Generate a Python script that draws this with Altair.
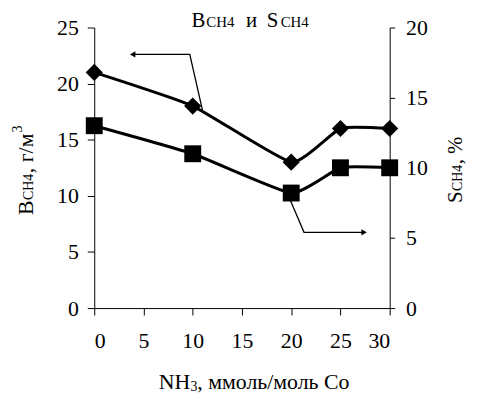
import altair as alt
import pandas as pd

# ---- data ----
nh3 = [0, 10, 20, 25, 30]                 # NH3, mmol/mol Co
b_ch4 = [21, 18, 13, 16, 16]              # B_CH4, g/m3 (left axis, diamonds)
s_ch4 = [13, 11, 8.2, 10, 10]             # S_CH4, %   (right axis, squares)

x_ticks = [0, 5, 10, 15, 20, 25, 30]
left_ticks = [0, 5, 10, 15, 20, 25]
right_ticks = [0, 5, 10, 15, 20]

# pointer arrows (data units: left scale for B, right scale for S)
arrow_b_x = [11.0, 9.7, 3.9]
arrow_b_y = [17.6, 22.6, 22.6]
arrow_s_x = [19.9, 21.3, 27.4]
arrow_s_y = [7.7, 5.4, 5.4]

title_parts = ["B", "CH4", "и", "S", "CH4"]
x_title_parts = ["NH", "3", ", ммоль/моль Co"]
left_title_parts = ["B", "CH4", ", г/м", "3"]
right_title_parts = ["S", "CH4", ", %"]

FONT = "Liberation Serif"

df = pd.DataFrame({"x": nh3, "b": b_ch4, "s": s_ch4})
arr_b = pd.DataFrame({"x": arrow_b_x, "y": arrow_b_y, "o": list(range(len(arrow_b_x)))})
arr_s = pd.DataFrame({"x": arrow_s_x, "y": arrow_s_y, "o": list(range(len(arrow_s_x)))})

x_scale = alt.Scale(domain=[0, 30], nice=False, zero=False)
x_axis = alt.Axis(values=x_ticks, title=None, tickSize=7, labelPadding=16)


def xe():
    return alt.X("x:Q", scale=x_scale, axis=x_axis)


left_scale = alt.Scale(domain=[0, 25], nice=False)
left_axis = alt.Axis(values=left_ticks, orient="left", title=None, tickSize=7, labelPadding=9)
right_scale = alt.Scale(domain=[0, 20], nice=False)
right_axis = alt.Axis(values=right_ticks, orient="right", title=None, tickSize=5, labelPadding=11)


def yl(field):
    return alt.Y(f"{field}:Q", scale=left_scale, axis=left_axis)


def yr(field):
    return alt.Y(f"{field}:Q", scale=right_scale, axis=right_axis)


def txt(s, x, y, size, angle=0):
    return alt.Chart(pd.DataFrame({"t": [s]})).mark_text(
        align="left", baseline="alphabetic", font=FONT, fontSize=size,
        angle=angle, color="black"
    ).encode(text="t:N", x=alt.value(x), y=alt.value(y))


base = alt.Chart(df)
LINE = dict(color="black", strokeWidth=3, interpolate="cardinal", tension=0.55)

b_line = base.mark_line(**LINE).encode(x=xe(), y=yl("b"))
b_pts = base.mark_point(shape="diamond", filled=True, size=300, color="black", opacity=1).encode(x=xe(), y=yl("b"))
b_arrow = alt.Chart(arr_b).mark_line(color="black", strokeWidth=1.3).encode(x=xe(), y=yl("y"), order="o:Q")
b_head = alt.Chart(arr_b).transform_filter("datum.o == 2").mark_point(
    shape="triangle-left", filled=True, size=40, color="black", opacity=1).encode(x=xe(), y=yl("y"))

texts = [
    # chart title
    txt(title_parts[0], 98, -1, 21),
    txt(title_parts[1], 113, -1, 15),
    txt(title_parts[2], 153, -1, 21),
    txt(title_parts[3], 174, -1, 21),
    txt(title_parts[4], 188, -1, 15),
    # x title
    txt(x_title_parts[0], 65, 365, 22),
    txt(x_title_parts[1], 97, 367, 14),
    txt(x_title_parts[2], 104, 365, 22),
    # left title (rotated)
    txt(left_title_parts[0], -62, 189, 22, 270),
    txt(left_title_parts[1], -62, 174, 14, 270),
    txt(left_title_parts[2], -62, 147, 22, 270),
    txt(left_title_parts[3], -73, 106, 14, 270),
    # right title (rotated)
    txt(right_title_parts[0], 371, 177, 21, 270),
    txt(right_title_parts[1], 371, 165, 14, 270),
    txt(right_title_parts[2], 371, 138, 21, 270),
]

left = alt.layer(b_line, b_pts, b_arrow, b_head, *texts)

s_line = base.mark_line(**LINE).encode(x=xe(), y=yr("s"))
s_pts = base.mark_point(shape="square", filled=True, size=290, color="black", opacity=1).encode(x=xe(), y=yr("s"))
s_arrow = alt.Chart(arr_s).mark_line(color="black", strokeWidth=1.3).encode(x=xe(), y=yr("y"), order="o:Q")
s_head = alt.Chart(arr_s).transform_filter("datum.o == 2").mark_point(
    shape="triangle-right", filled=True, size=40, color="black", opacity=1).encode(x=xe(), y=yr("y"))

right = alt.layer(s_line, s_pts, s_arrow, s_head)

chart = alt.layer(left, right).resolve_scale(y="independent").properties(
    width=298, height=283,
    autosize=alt.AutoSizeParams(type="none"),
    padding={"left": 87, "top": 18, "right": 80, "bottom": 85},
).configure_view(stroke=None).configure_axis(
    domainColor="black", domainWidth=1, tickColor="black", tickWidth=1,
    labelFont=FONT, labelFontSize=22, labelColor="black", grid=False,
)

chart.save("out.html", embed_options={"renderer": "svg", "actions": False})
